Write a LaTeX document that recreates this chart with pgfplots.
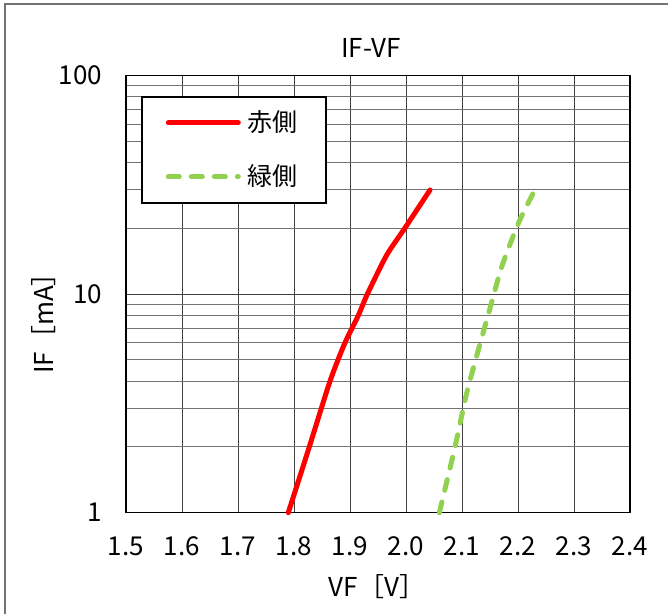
\documentclass[border=0pt]{standalone}
\usepackage{pgfplots}
\pgfplotsset{compat=1.18}
\usepackage{fontspec}
\setmainfont{Noto Sans CJK JP}
\begin{document}
\begin{tikzpicture}[x=0.5pt,y=0.5pt]
\useasboundingbox (0,0) rectangle (668,614);
\draw[black!55,line width=0.8pt] (5,0) -- (5,610) -- (668,610);
\begin{axis}[
  at={(63pt,50.65pt)}, anchor=south west,
  scale only axis, width=252pt, height=218.5pt,
  xmin=1.5, xmax=2.4, ymin=1, ymax=100, ymode=log,
  xtick={1.5,1.6,1.7,1.8,1.9,2.0,2.1,2.2,2.3,2.4},
  xticklabels={1.5,1.6,1.7,1.8,1.9,2.0,2.1,2.2,2.3,2.4},
  ytick={1,10,100}, yticklabels={1,10,100},
  grid=both,
  major grid style={black!75,line width=0.5pt},
  minor grid style={black!55,line width=0.5pt},
  major tick length=0pt, minor tick length=0pt,
  axis line style={black,line width=0.6pt},
  tick label style={font=\fontsize{13}{15}\selectfont},
  xticklabel style={yshift=-8.5pt},
  yticklabel style={xshift=-8.5pt},
  /pgf/number format/assume math mode=true,
  legend style={at={(0.0298,0.9535)}, anchor=north west, draw=black, line width=0.8pt,
    font=\fontsize{12.5}{14}\selectfont, inner xsep=12pt, inner ysep=5pt,
    row sep=11pt, /tikz/every odd column/.append style={column sep=1.5pt}},
  legend cell align=left,
  legend image code/.code={\draw[#1] (0pt,0pt) -- (35pt,0pt);},
  clip=false,
]
\addplot[red,line width=2.5pt,line cap=round,line join=round,smooth,tension=0.4] coordinates {
(1.7898,1) (1.8273,2) (1.8643,4) (1.8911,6) (1.9149,8) (1.9309,10)
(1.9655,15.1) (1.9976,20) (2.0429,30)};
\addlegendentry{赤側}
\addplot[color={rgb,255:red,146;green,208;blue,80},line width=2.5pt,line cap=round,line join=round,dash pattern=on 5.5pt off 6pt,smooth,tension=0.4] coordinates {
(2.0595,1) (2.0875,2) (2.1083,3.52) (2.1291,5.55) (2.150,8.62) (2.171,13.36)
(2.2006,21.1) (2.2286,29.5)};
\addlegendentry{緑側}
\end{axis}
\node[font=\fontsize{13}{15}\selectfont] at (371,566) {IF-VF};
\node[font=\fontsize{13}{15}\selectfont,rotate=90] at (44,297) {IF［mA］};
\node[font=\fontsize{13}{15}\selectfont] at (377,27) {VF［V］};
\end{tikzpicture}
\end{document}
